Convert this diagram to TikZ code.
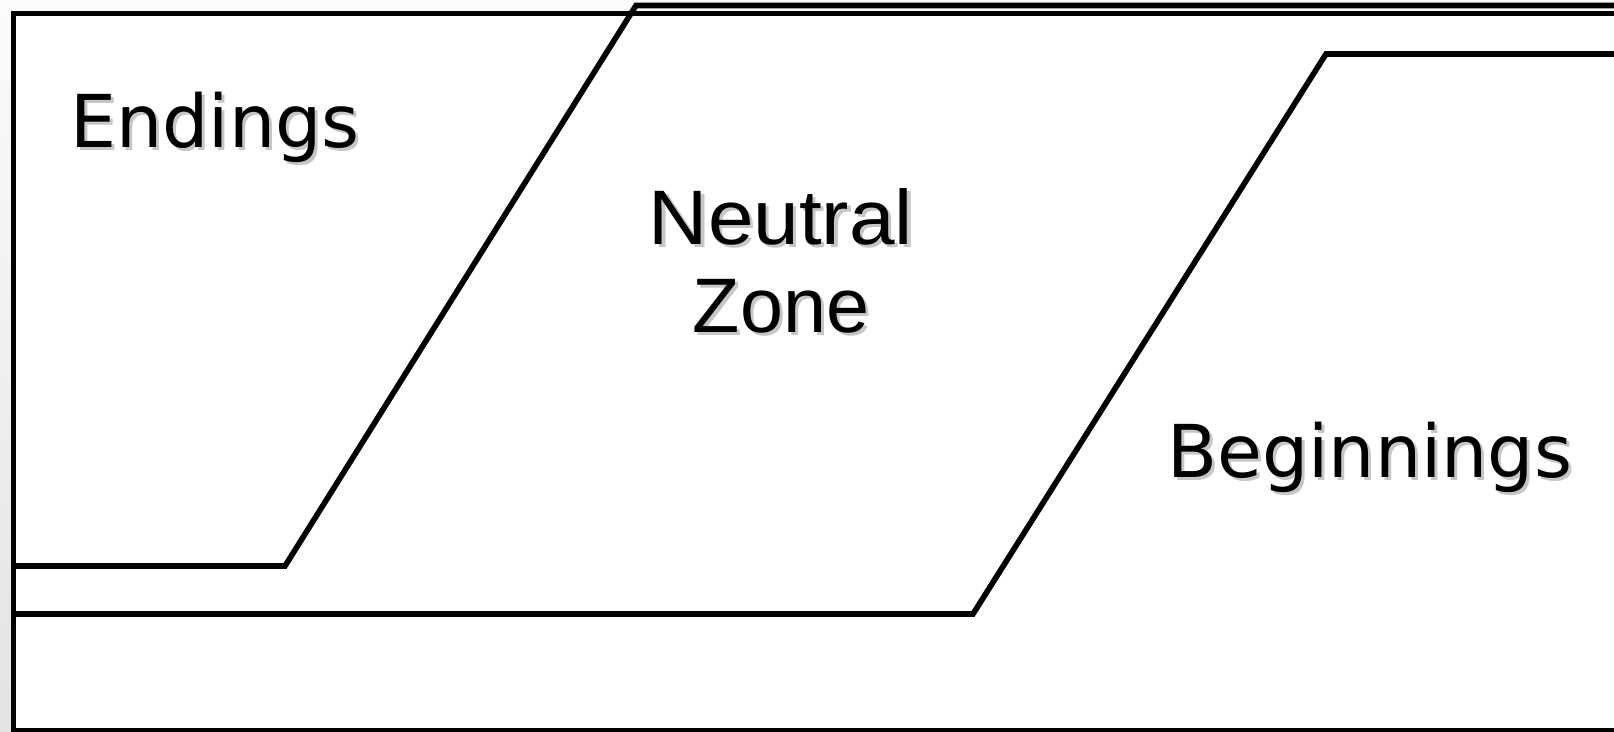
\documentclass[tikz,border=0pt]{standalone}
\usepackage{fontspec}
\newfontfamily\phasefont{DejaVu Sans}
\newfontfamily\neutralfont{Liberation Sans}
\newcommand\dropshadow[1]{\makebox[0pt][l]{\hspace{0.06cm}\raisebox{-0.06cm}[0pt][0pt]{\color{gray!45}#1}}#1}

\begin{document}
\begin{tikzpicture}[
  x=0.02cm, y=-0.02cm,
  boundary/.style={draw, line width=3.2pt},
  phase/.style={inner sep=0pt, text depth=0pt, font=\phasefont\fontsize{41.5}{49}\selectfont},
  zone/.style={inner sep=0pt, text depth=0pt, align=center, font=\neutralfont\fontsize{44}{50}\selectfont}
]
\useasboundingbox (0,0) rectangle (1614,732);
\fill[top color=gray!3, bottom color=gray!22] (0,0) rectangle (1614,732);
\fill[white] (13,13) rectangle (1614,732);
% frame
\draw[boundary] (1614,13.5) -- (13.5,13.5) -- (13.5,731) -- (1614,731);
% endings | neutral zone
\draw[boundary] (13,566) -- (285,566) -- (636,5.5) -- (1614,5.5);
% neutral zone | beginnings
\draw[boundary] (13,614) -- (973,614) -- (1326,54) -- (1614,54);

\node[phase, anchor=base west] (endings) at (70,148) {\dropshadow{Endings}};
\node[zone, anchor=south] (neutral) at (781,333) {\scalebox{1.06}[1]{\dropshadow{Neutral}}\\\dropshadow{Zone}};
\node[phase, anchor=base west] (beginnings) at (1167,478) {\dropshadow{Beginnings}};
\end{tikzpicture}
\end{document}
